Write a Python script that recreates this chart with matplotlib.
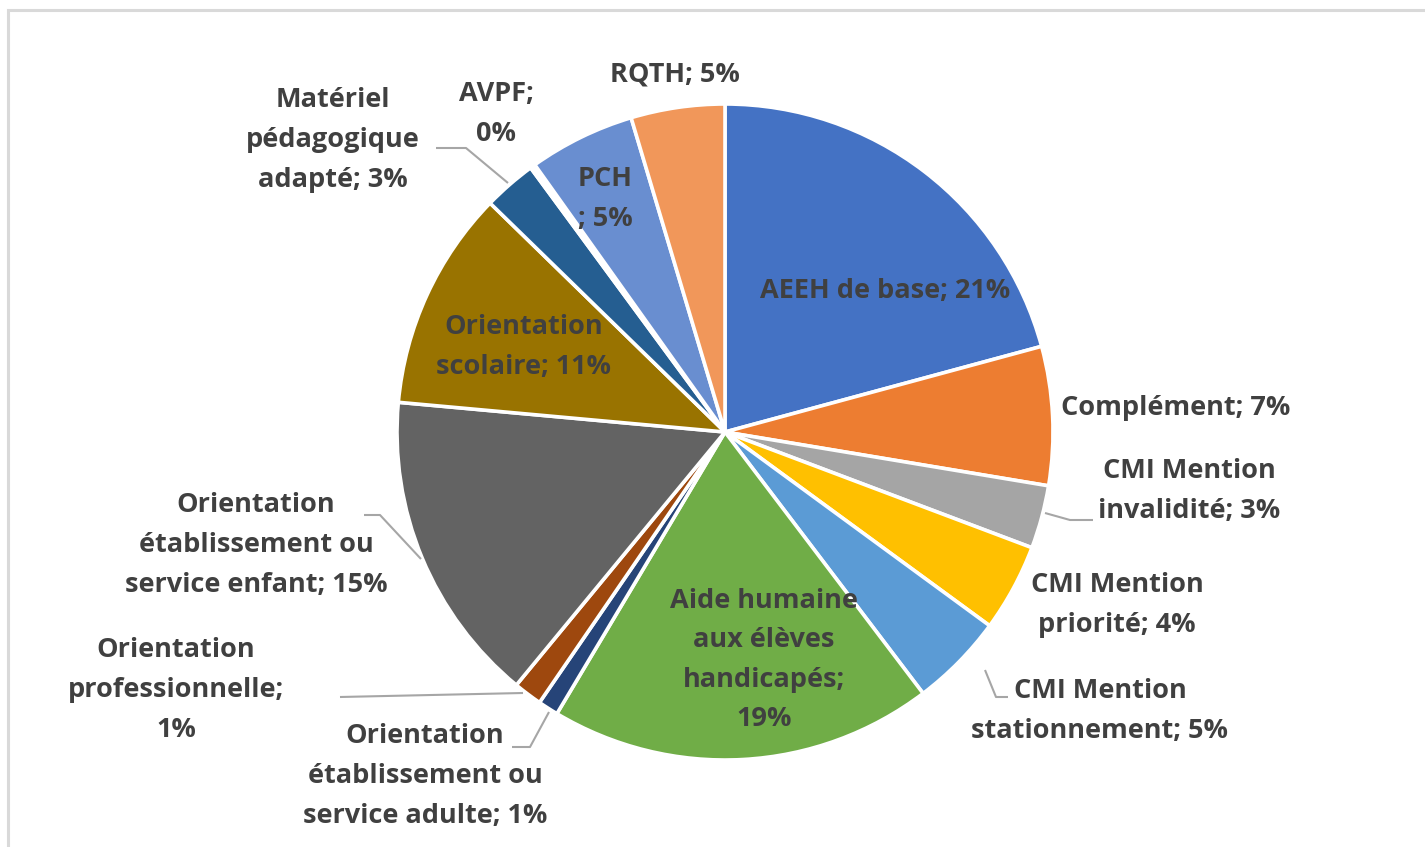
import matplotlib
matplotlib.use("Agg")
import matplotlib.pyplot as plt
from matplotlib.patches import Rectangle

# ---------------- data ----------------
categories = [
    "AEEH de base", "Complément", "CMI Mention invalidité", "CMI Mention priorité",
    "CMI Mention stationnement", "Aide humaine aux élèves handicapés",
    "Orientation établissement ou service adulte", "Orientation professionnelle",
    "Orientation établissement ou service enfant", "Orientation scolaire",
    "Matériel pédagogique adapté", "AVPF", "PCH", "RQTH",
]
values = [20.7, 6.8, 3.1, 4.3, 4.6, 18.8, 1.0, 1.4, 15.4, 10.8, 2.6, 0.25, 5.2, 4.6]
colors = ["#4472C4", "#ED7D31", "#A5A5A5", "#FFC000", "#5B9BD5", "#70AD47",
          "#264478", "#9E480E", "#636363", "#997300", "#255E91", "#FFFFFF",
          "#698ED0", "#F1975A"]

# label templates (line breaks as displayed)
label_tpl = [
    "AEEH de base; {p}%", "Complément; {p}%", "CMI Mention\ninvalidité; {p}%",
    "CMI Mention\npriorité; {p}%", "CMI Mention\nstationnement; {p}%",
    "Aide humaine\naux élèves\nhandicapés;\n{p}%",
    "Orientation\nétablissement ou\nservice adulte; {p}%",
    "Orientation\nprofessionnelle;\n{p}%",
    "Orientation\nétablissement ou\nservice enfant; {p}%",
    "Orientation\nscolaire; {p}%", "Matériel\npédagogique\nadapté; {p}%",
    "AVPF;\n{p}%", "PCH\n; {p}%", "RQTH; {p}%",
]

# ---------------- layout (pixels) ----------------
W, H = 1425, 847
CX, CY, R = 725, 432, 328
label_pos = [(885, 291), (1176, 408), (1189, 491), (1117, 605), (1100, 711),
             (764, 660), (425, 776), (176, 690), (256, 545), (524, 347),
             (333, 140), (496, 114), (605, 199), (675, 74)]
leaders = {
    2: [(1045, 513), (1070, 520), (1093, 520)],
    4: [(985, 670), (996, 697), (1008, 697)],
    6: [(549, 712), (530, 747), (512, 747)],
    7: [(523, 693), (340, 697)],
    8: [(421, 559), (380, 515), (364, 515)],
    10: [(508, 183), (466, 148), (436, 148)],
}
TEXT = "#404040"
FONT = ["Open Sans", "DejaVu Sans"]

fig = plt.figure(figsize=(W / 100, H / 100), dpi=100)
ax = fig.add_axes([0, 0, 1, 1])

total = sum(values)
ax.pie(values, colors=colors, center=(CX, CY), radius=R, startangle=-90,
       counterclock=True, frame=True,
       wedgeprops=dict(edgecolor="white", linewidth=2.6))

ax.set_xlim(0, W)
ax.set_ylim(H, 0)
ax.set_aspect("equal")
ax.axis("off")

for i, (tpl, v) in enumerate(zip(label_tpl, values)):
    p = round(v / total * 100)
    x, y = label_pos[i]
    ax.text(x, y, tpl.format(p=p), ha="center", va="center", color=TEXT,
            fontsize=19.5, fontweight="bold", family=FONT, linespacing=1.68)

for k, pts in leaders.items():
    xs, ys = zip(*pts)
    ax.plot(xs, ys, color="#A6A6A6", lw=1.5, solid_capstyle="butt")

# outer chart frame
fig.patches.append(Rectangle((7.5 / W, -0.1), 2, 1 - 10.5 / H + 0.1,
                             transform=fig.transFigure, fill=False,
                             edgecolor="#D9D9D9", lw=2.2))

fig.savefig("out.png", dpi=100, facecolor="white")
